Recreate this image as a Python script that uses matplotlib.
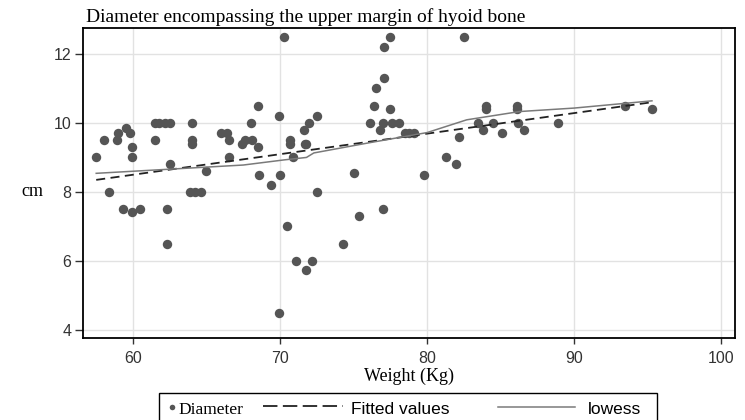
import numpy as np
import matplotlib
matplotlib.use('Agg')
import matplotlib.pyplot as plt
from matplotlib.lines import Line2D
from matplotlib.patches import Rectangle

# weight (kg) and diameter (cm)
weight = [57.5, 58.0, 58.4, 58.9, 59.0, 59.5, 59.8, 59.9, 59.9, 59.3, 59.9, 60.5,
          61.5, 61.8, 62.2, 62.5, 61.5, 62.5, 62.3, 62.3, 64.0, 64.0, 64.0, 63.9,
          64.2, 64.6, 65.0, 66.0, 66.4, 66.5, 66.5, 67.4, 67.6, 68.1, 68.0, 68.5,
          68.5, 68.6, 69.4, 70.0, 69.95, 70.3, 70.7, 70.7, 70.9, 70.45, 69.95, 71.1,
          71.8, 72.2, 71.7, 71.8, 71.6, 72.0, 72.5, 72.5, 74.3, 75.0, 75.4, 76.1,
          76.4, 76.5, 76.8, 77.1, 77.1, 77.5, 77.5, 77.0, 77.6, 78.1, 77.0, 78.5,
          78.8, 79.1, 79.8, 81.3, 82.0, 82.2, 82.5, 83.5, 83.8, 84.0, 84.0, 84.5,
          85.1, 86.1, 86.1, 86.2, 86.6, 88.9, 93.5, 95.3]
diameter = [9.0, 9.5, 8.0, 9.5, 9.7, 9.85, 9.7, 9.3, 9.0, 7.5, 7.43, 7.5,
            10.0, 10.0, 10.0, 10.0, 9.5, 8.8, 7.5, 6.5, 10.0, 9.5, 9.4, 8.0,
            8.0, 8.0, 8.6, 9.7, 9.7, 9.5, 9.0, 9.4, 9.5, 9.5, 10.0, 9.3,
            10.5, 8.5, 8.2, 8.5, 10.2, 12.5, 9.5, 9.4, 9.0, 7.0, 4.5, 6.0,
            5.74, 6.0, 9.4, 9.4, 9.8, 10.0, 10.2, 8.0, 6.5, 8.55, 7.3, 10.0,
            10.5, 11.0, 9.8, 11.3, 12.2, 12.5, 10.4, 10.0, 10.0, 10.0, 7.5, 9.7,
            9.7, 9.7, 8.5, 9.0, 8.8, 9.6, 12.5, 10.0, 9.8, 10.5, 10.4, 10.0,
            9.7, 10.5, 10.4, 10.0, 9.8, 10.0, 10.5, 10.4]

# fitted values (straight line) and lowess curve
fit_x = [57.5, 95.3]
fit_y = [8.35, 10.6]
lowess_x = [57.5, 62.5, 67.5, 70.3, 71.8, 72.3, 76.0, 80.0, 82.7, 86.3, 90.0, 95.3]
lowess_y = [8.54, 8.66, 8.78, 8.93, 9.0, 9.13, 9.42, 9.72, 10.09, 10.33, 10.43, 10.64]

xticks = [60, 70, 80, 90, 100]
yticks = [4, 6, 8, 10, 12]

serif = 'Liberation Serif'
sans = 'Liberation Sans'
W, H = 745, 420

dot_col = '#555555'
fit_col = '#222222'
low_col = '#7a7a7a'


def fx(px):
    return px / W


def fy(py):
    return 1 - py / H


fig = plt.figure(figsize=(W / 100, H / 100), dpi=100)
ax = fig.add_axes([0.111, 0.1945, 0.8756, 0.738])

ax.scatter(weight, diameter, s=46, color=dot_col, zorder=3, linewidths=0)
ax.plot(fit_x, fit_y, color=fit_col, lw=1.3, dashes=(5, 3), zorder=4)
ax.plot(lowess_x, lowess_y, color=low_col, lw=1.1, zorder=4)

ax.set_xlim(56.58, 100.95)
ax.set_ylim(3.76, 12.74)
ax.set_xticks(xticks)
ax.set_yticks(yticks)
ax.grid(True, color='#e2e2e2', lw=1.0, zorder=0)
ax.set_axisbelow(True)

for s in ax.spines.values():
    s.set_color('black')
    s.set_linewidth(1.3)
ax.tick_params(axis='both', width=1, color='#333333', labelsize=11.5,
               labelcolor='#333333')
ax.tick_params(axis='x', length=4, pad=5)
ax.tick_params(axis='y', length=6, pad=2)
for lbl in ax.get_xticklabels() + ax.get_yticklabels():
    lbl.set_family(sans)

ax.set_xlabel('Weight (Kg)', family=serif, fontsize=13, labelpad=1)
fig.text(fx(43), fy(192), 'cm', family=serif, fontsize=13, ha='right', va='center')
fig.text(fx(86), fy(22), 'Diameter encompassing the upper margin of hyoid bone',
         family=serif, fontsize=14, ha='left', va='baseline')

# legend box along the bottom edge
fig.add_artist(Rectangle((fx(159), fy(424)), fx(657) - fx(159), fy(393) - fy(424),
                         transform=fig.transFigure, fill=False, ec='black', lw=1.0))
ly = fy(407)
fig.add_artist(Line2D([fx(172)], [ly], transform=fig.transFigure, ls='none',
                      marker='o', ms=4, color=dot_col, mew=0))
fig.text(fx(178), fy(414), 'Diameter', family=serif, fontsize=12.5, va='baseline')
fig.add_artist(Line2D([fx(263), fx(343)], [fy(406), fy(406)], transform=fig.transFigure,
                      color=fit_col, lw=1.3, dashes=(8, 3)))
fig.text(fx(351), fy(414), 'Fitted values', family=sans, fontsize=12.5, va='baseline')
fig.add_artist(Line2D([fx(498), fx(575)], [ly, ly], transform=fig.transFigure,
                      color=low_col, lw=1.1))
fig.text(fx(588), fy(414), 'lowess', family=sans, fontsize=12.5, va='baseline')

fig.savefig('out.png', dpi=100)
